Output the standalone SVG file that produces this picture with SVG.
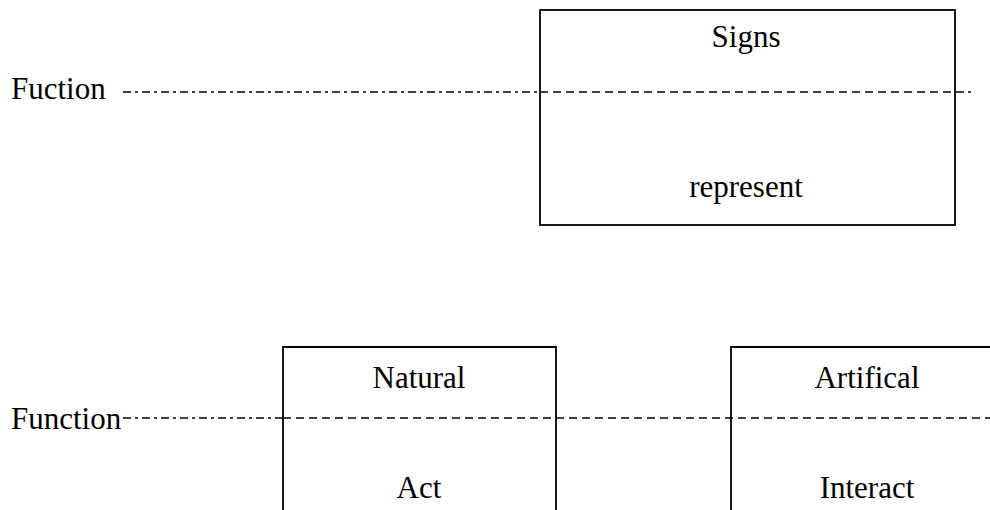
<svg xmlns="http://www.w3.org/2000/svg" width="990" height="510" viewBox="0 0 990 510">
<style>
.t{font-family:"Liberation Serif","Times New Roman",serif;font-size:31px;fill:#000}
.c{text-anchor:middle}
.box{fill:none;stroke:#000;stroke-width:1.8}
.dd{stroke:#000;stroke-width:1.6;fill:none;stroke-dasharray:8 4 3 4}
.ds{stroke:#000;stroke-width:1.6;fill:none;stroke-dasharray:8 5}
</style>
<rect width="990" height="510" fill="#fff"/>
<g id="connectors">
<line class="dd" x1="123" y1="92" x2="540" y2="92"/>
<line class="ds" x1="540" y1="92" x2="955" y2="92"/>
<line class="dd" x1="956" y1="92" x2="973" y2="92"/>
<line class="dd" x1="123" y1="418" x2="283" y2="418"/>
<line class="ds" x1="283" y1="418" x2="990" y2="418"/>
</g>
<g id="label-fuction"><text class="t" x="11" y="99">Fuction</text></g>
<g id="signs">
<rect class="box" x="540" y="10" width="415" height="215"/>
<text class="t c" x="746" y="47">Signs</text>
<text class="t c" x="746" y="197">represent</text>
</g>
<g id="label-function"><text class="t" x="11" y="429">Function</text></g>
<g id="natural">
<path class="box" d="M283 512 V347 H556 V512"/>
<text class="t c" x="419" y="388">Natural</text>
<text class="t c" x="419" y="498">Act</text>
</g>
<g id="artifical">
<path class="box" d="M731 512 V347 H995"/>
<text class="t c" x="867" y="388">Artifical</text>
<text class="t c" x="867" y="498">Interact</text>
</g>
</svg>
